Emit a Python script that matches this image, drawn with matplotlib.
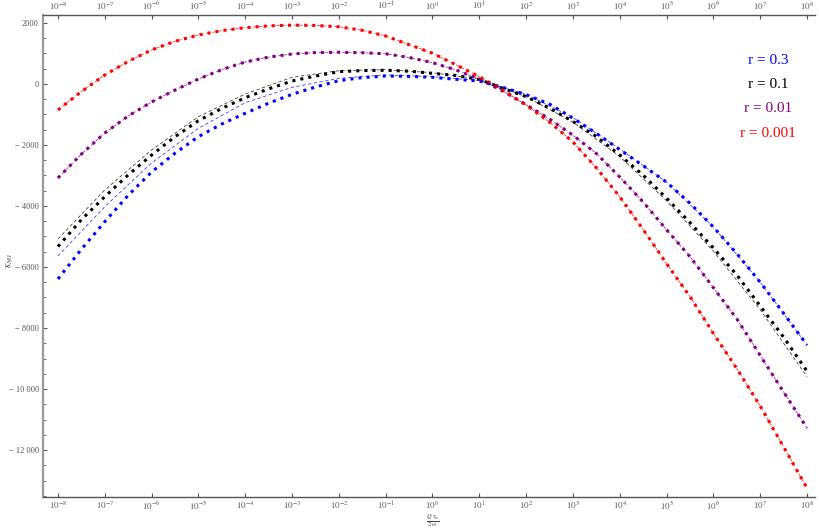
import numpy as np
import matplotlib
matplotlib.use("Agg")
import matplotlib.pyplot as plt
from matplotlib.ticker import FixedLocator, FixedFormatter, NullLocator

plt.rcParams['mathtext.fontset'] = 'stix'

# log10 of Q*tau/(2 omega), half-decade grid
log_x = np.arange(-8, 8.01, 0.5)

kappa_r0001 = [-852, -250, 295, 740, 1115, 1400, 1607, 1750, 1846, 1905, 1930, 1920, 1875,
               1760, 1574, 1290, 1010, 630, 240, -200, -690, -1250, -1900, -2750, -3700,
               -4770, -5890, -6970, -8180, -9330, -10560, -11900, -13250]
kappa_r001 = [-3082, -2300, -1607, -1050, -590, -200, 164, 470, 721, 880, 984, 1030, 1040,
              1025, 990, 870, 700, 460, 164, -230, -680, -1150, -1680, -2280, -3050,
              -3870, -4780, -5662, -6680, -7700, -8900, -10100, -11280]
kappa_r01 = [-5330, -4450, -3695, -2980, -2330, -1730, -1203, -800, -449, -160, 98, 260, 404,
             440, 450, 420, 350, 280, 153, -142, -415, -790, -1230, -1720, -2330,
             -2990, -3745, -4545, -5380, -6262, -7280, -8300, -9420]
kappa_r03 = [-6393, -5420, -4514, -3650, -2885, -2270, -1727, -1310, -961, -630, -339, -100, 109,
             210, 262, 250, 219, 153, 98, -110, -350, -660, -1120, -1620, -2150,
             -2680, -3220, -3910, -4690, -5560, -6500, -7520, -8560]

# thin dashed companions, one point per decade
log_x_dec = np.arange(-8, 8.01, 1.0)
kappa_r01_dashed = [-5082, -3475, -2164, -1071, -328, 219, 437, 470, 370, 160, -420,
                    -1250, -2380, -3830, -5480, -7400, -9600]
kappa_r03_dashed = [-5640, -4022, -2590, -1453, -613, -109, 186, 295, 240, 110, -330,
                    -1100, -2130, -3220, -4690, -6500, -8560]

labels = ["r = 0.3", "r = 0.1", "r = 0.01", "r = 0.001"]
colors = ["blue", "black", "purple", "red"]

fig = plt.figure(figsize=(8.2, 5.28), dpi=100)
ax = fig.add_axes([0.0524, 0.0587, 0.9415, 0.9129])

x = 10.0 ** log_x
xd = 10.0 ** log_x_dec
dotted = dict(linestyle=(0, (1, 1.65)), linewidth=2.2, dash_capstyle='butt')
thin = dict(linestyle=(0, (4, 3)), linewidth=0.6, alpha=0.75)

for data, c in zip([kappa_r03, kappa_r01, kappa_r001, kappa_r0001], colors):
    ax.plot(x, data, color=c, **dotted)

ax.plot(x, kappa_r001, color="purple", **thin)
ax.plot(x, kappa_r0001, color="red", **thin)
ax.plot(xd, kappa_r01_dashed, color="black", **thin)
ax.plot(xd, kappa_r03_dashed, color="blue", **thin)

ax.set_xscale("log")
ax.set_xlim(10 ** -8.32, 10 ** 8.17)
ax.set_ylim(-13541, 2262)

xt = [10.0 ** k for k in range(-8, 9)]
ax.xaxis.set_major_locator(FixedLocator(xt))
ax.xaxis.set_major_formatter(FixedFormatter([r"$10^{%d}$" % k for k in range(-8, 9)]))
ax.xaxis.set_minor_locator(NullLocator())

yt = list(range(-12000, 2001, 2000))
ylab = []
for v in yt:
    s = f"{abs(v):,}".replace(",", " ") if abs(v) >= 10000 else str(abs(v))
    ylab.append(("\u2212 " + s) if v < 0 else s)
ax.yaxis.set_major_locator(FixedLocator(yt))
ax.yaxis.set_major_formatter(FixedFormatter(ylab))
ax.yaxis.set_minor_locator(FixedLocator(list(range(-13500, 2001, 500))))

ax.tick_params(axis="x", which="both", direction="in", top=True, labeltop=True,
               length=3, width=0.8, color="#555555", labelsize=6.5, labelcolor="#555555", pad=2)
ax.tick_params(axis="y", which="major", direction="in", length=3, width=0.8,
               color="#555555", labelsize=6, labelcolor="#555555", pad=3)
ax.tick_params(axis="y", which="minor", direction="in", length=2, width=0.6, color="#555555")
for lab in ax.get_yticklabels():
    lab.set_family("Liberation Serif")

ax.spines["right"].set_visible(False)
ax.spines["left"].set_color("#999999")
ax.spines["left"].set_linewidth(1.6)
for s in ["top", "bottom"]:
    ax.spines[s].set_color("#555555")
    ax.spines[s].set_linewidth(1.0)

fig.text(433 / 820, 1 - 521 / 528, r"$\frac{Q\ \tau_\omega}{2\ \omega}$",
         ha="center", va="center", fontsize=6.5, color="#444444")
fig.text(10 / 820, 1 - 260 / 528, r"$\kappa_{NG}$", rotation=90, ha="center", va="center",
         fontsize=7, color="#444444")

for i, (lab, c) in enumerate(zip(labels, colors)):
    fig.text(768 / 820, 1 - (60 + 24.5 * i) / 528, lab, color=c, ha="center", va="center",
             fontsize=11, family="Liberation Serif")

fig.savefig("out.png", dpi=100)
